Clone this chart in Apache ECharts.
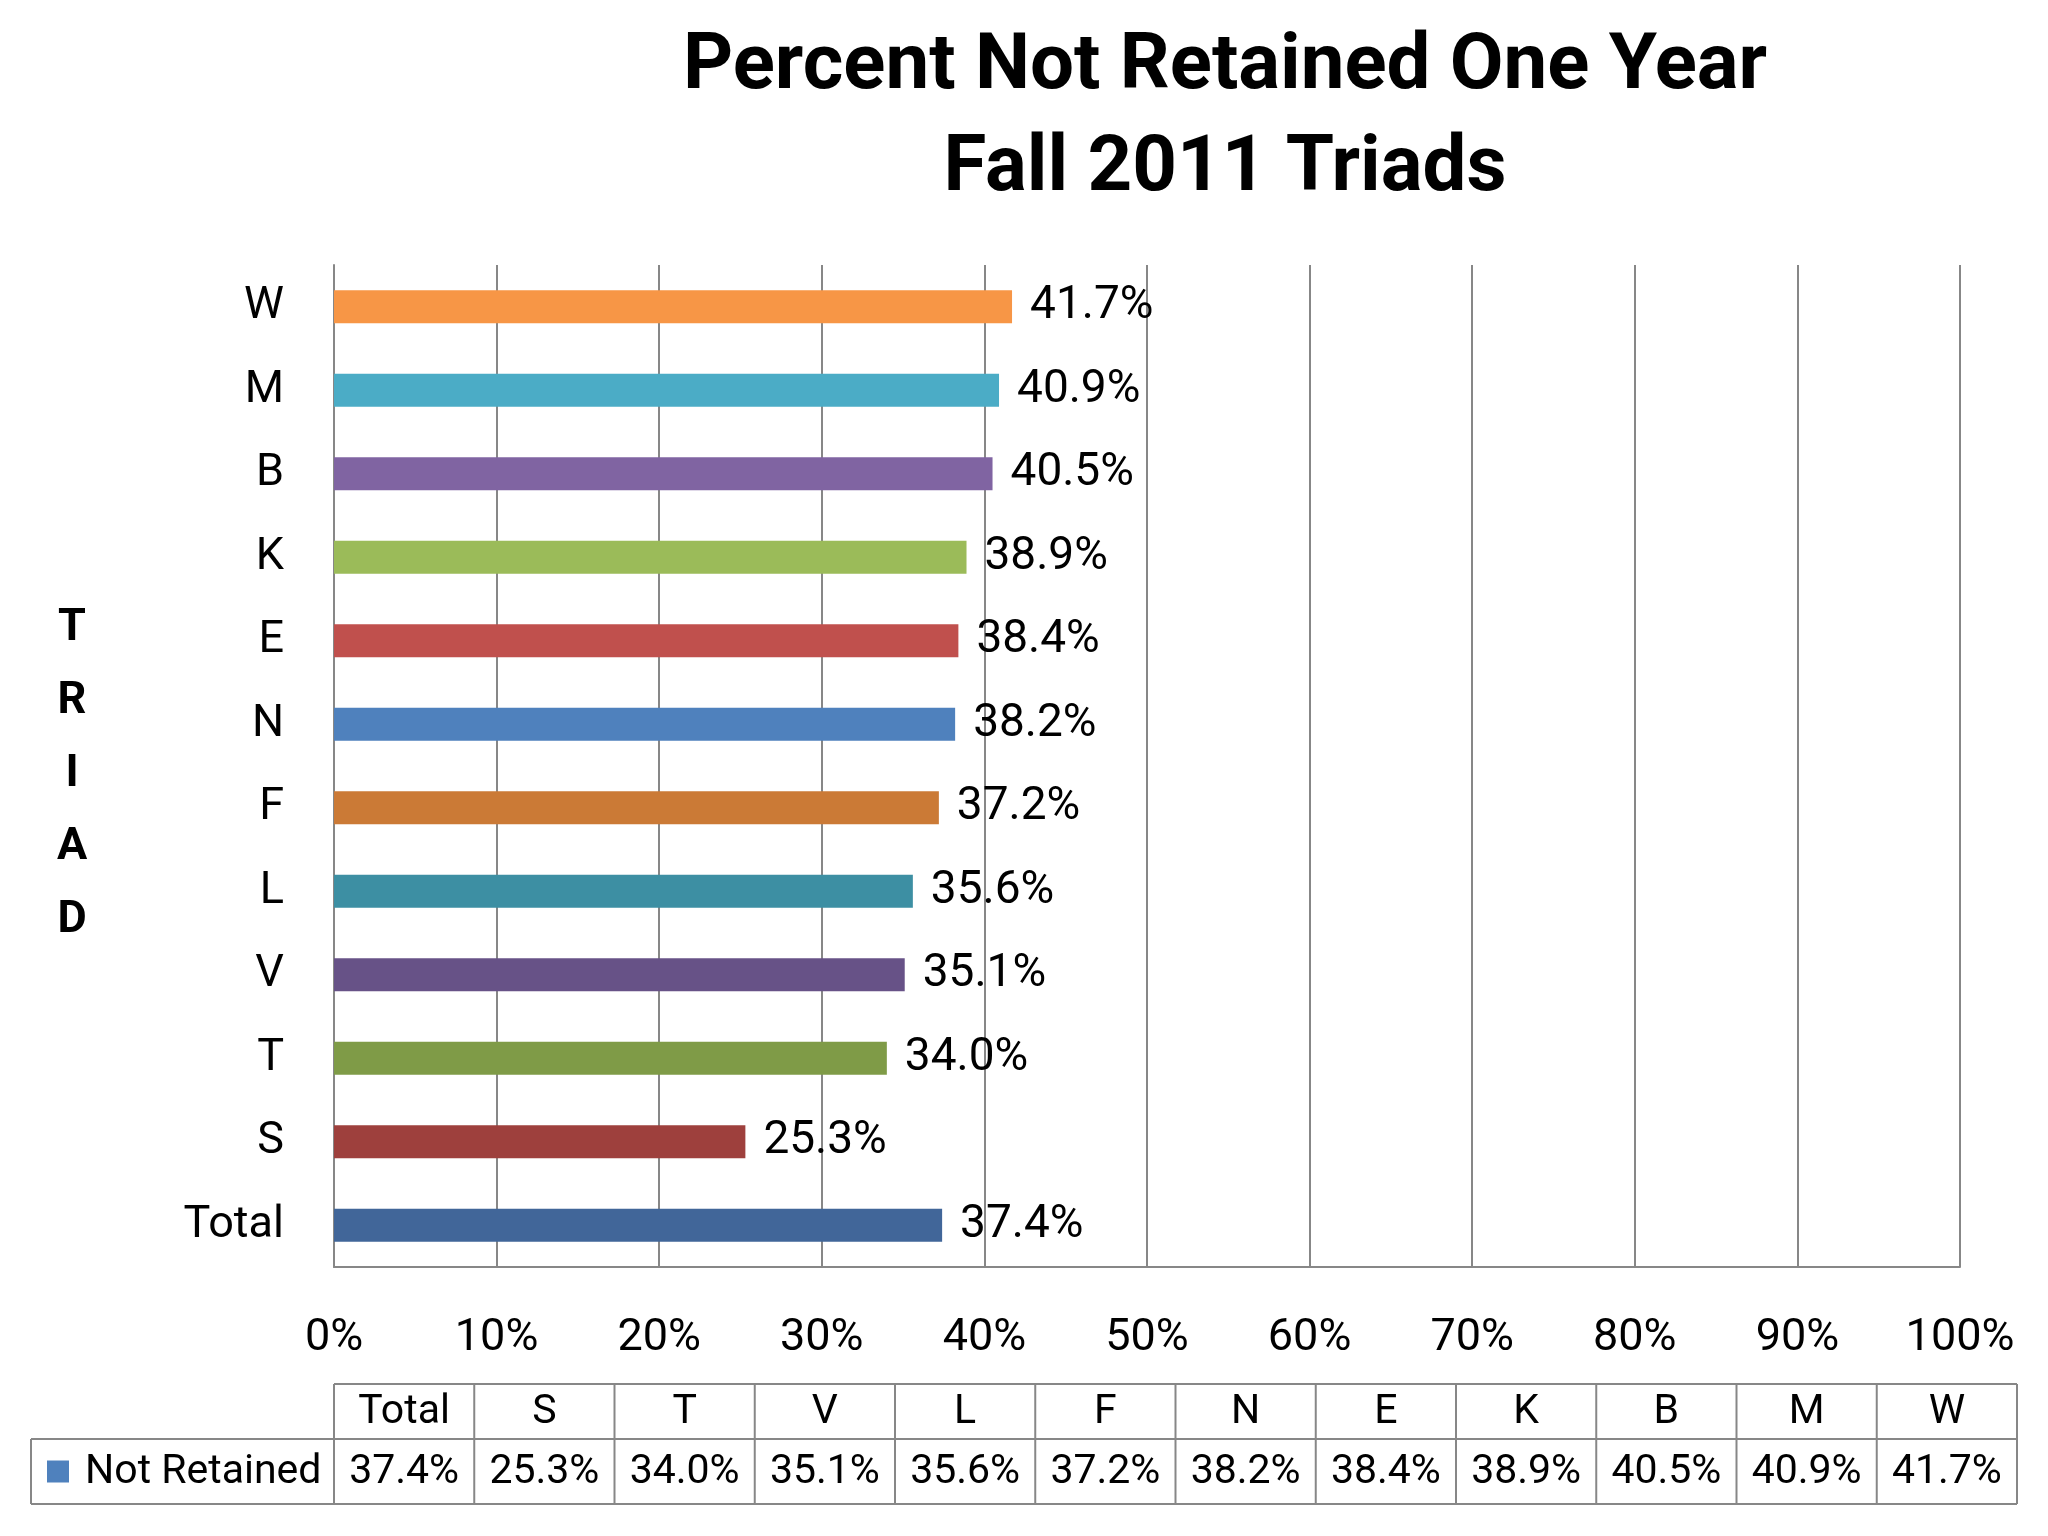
<!DOCTYPE html>
<html>
<head>
<meta charset="utf-8">
<script src="https://cdn.jsdelivr.net/npm/echarts@6/dist/echarts.min.js"></script>
<style>
html,body{margin:0;padding:0;background:#fff;}
#chart{width:2048px;height:1536px;}
</style>
</head>
<body>
<div id="chart"></div>
<script>
// Data
const categories = ['Total','S','T','V','L','F','N','E','K','B','M','W'];
const notRetained = [37.4, 25.3, 34.0, 35.1, 35.6, 37.2, 38.2, 38.4, 38.9, 40.5, 40.9, 41.7];
const barColors = ['#416699','#9E403D','#7F9B47','#675287','#3D8FA3','#CB7A36','#4F81BD','#C0504D','#9BBB59','#8064A2','#4BACC6','#F79646'];
const xTicks = [0,10,20,30,40,50,60,70,80,90,100];
const seriesName = 'Not Retained';
const titleLines = ['Percent Not Retained One Year', 'Fall 2011 Triads'];
const axisTitle = 'TRIAD';

const FONT = 'Roboto';
const GRAY = '#878787';

const chart = echarts.init(document.getElementById('chart'), null, {renderer:'canvas'});

const els = [];
// Title (centred over the plot area, as in the reference)
titleLines.forEach((t, i) => {
  els.push({type:'text', style:{x:1225, y:68 + i*102, text:t, fill:'#000', font:'bold 78px ' + FONT, textAlign:'center', textVerticalAlign:'middle'}});
});

// Data table built from the arrays
const tblLeft = 334, tblRight = 2017, legLeft = 31;
const rowTop = 1384, rowMid = 1439, rowBot = 1504;
const colW = (tblRight - tblLeft) / categories.length;
const lineStyle = {stroke: GRAY, lineWidth: 2};
els.push({type:'line', shape:{x1:tblLeft,y1:rowTop,x2:tblRight,y2:rowTop}, style:lineStyle});
els.push({type:'line', shape:{x1:legLeft,y1:rowMid,x2:tblRight,y2:rowMid}, style:lineStyle});
els.push({type:'line', shape:{x1:legLeft,y1:rowBot,x2:tblRight,y2:rowBot}, style:lineStyle});
els.push({type:'line', shape:{x1:legLeft,y1:rowMid,x2:legLeft,y2:rowBot}, style:lineStyle});
for (let i = 0; i <= categories.length; i++) {
  const x = tblLeft + i * colW;
  els.push({type:'line', shape:{x1:x,y1:rowTop,x2:x,y2:rowBot}, style:lineStyle});
}
categories.forEach((c, i) => {
  const cx = tblLeft + (i + 0.5) * colW;
  els.push({type:'text', style:{x:cx, y:(rowTop+rowMid)/2 + 1, text:c, fill:'#000', font:'41px ' + FONT, textAlign:'center', textVerticalAlign:'middle'}});
  els.push({type:'text', style:{x:cx, y:(rowMid+rowBot)/2 + 1, text:notRetained[i].toFixed(1) + '%', fill:'#000', font:'41px ' + FONT, textAlign:'center', textVerticalAlign:'middle'}});
});
els.push({type:'rect', shape:{x:47, y:(rowMid+rowBot)/2 - 11, width:22, height:22}, style:{fill:'#4F81BD'}});
els.push({type:'text', style:{x:85, y:(rowMid+rowBot)/2 + 1, text:seriesName, fill:'#000', font:'41px ' + FONT, textAlign:'left', textVerticalAlign:'middle'}});

// Vertical axis title (stacked letters)
axisTitle.split('').forEach((ch, i) => {
  els.push({type:'text', style:{x:72, y:629 + i*73, text:ch, fill:'#000', font:'bold 45px ' + FONT, textAlign:'center', textVerticalAlign:'middle'}});
});

const option = {
  backgroundColor: '#ffffff',
  animation: false,
  grid: {left: 334, right: 88, top: 265, bottom: 269, containLabel: false},
  xAxis: {
    type: 'value',
    min: 0, max: 100, interval: 10,
    axisLine: {show: true, lineStyle: {color: GRAY, width: 2}},
    axisTick: {show: false},
    splitLine: {show: true, lineStyle: {color: GRAY, width: 2}},
    axisLabel: {formatter: '{value}%', fontFamily: FONT, fontSize: 45, color: '#000', margin: 49}
  },
  yAxis: {
    type: 'category',
    data: categories,
    axisLine: {show: true, lineStyle: {color: GRAY, width: 2}},
    axisTick: {show: false},
    splitLine: {show: false},
    axisLabel: {fontFamily: FONT, fontSize: 45, color: '#000', margin: 50}
  },
  series: [{
    name: seriesName,
    type: 'bar',
    barWidth: 33,
    data: notRetained.map((v, i) => ({value: v, itemStyle: {color: barColors[i]}})),
    label: {
      show: true, position: 'right', distance: 18,
      formatter: p => p.value.toFixed(1) + '%',
      fontFamily: FONT, fontSize: 46, color: '#000'
    }
  }],
  graphic: els
};
chart.setOption(option);
</script>
</body>
</html>
